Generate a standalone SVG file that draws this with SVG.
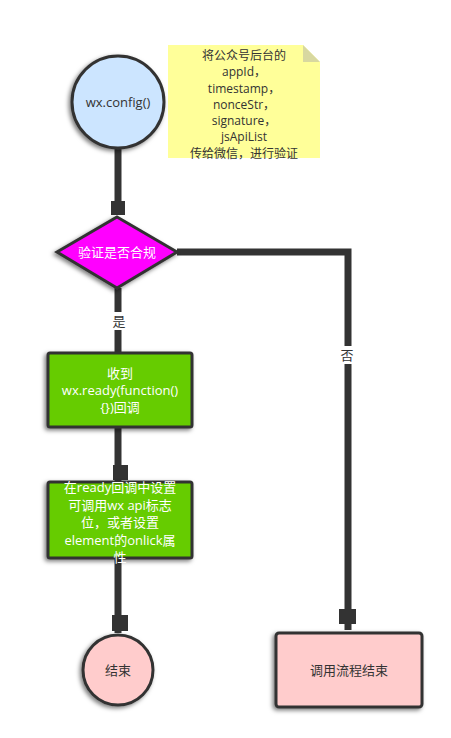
<svg xmlns="http://www.w3.org/2000/svg" width="451" height="738" viewBox="0 0 451 738">
<style>
text{font-family:"Open Sans","Noto Sans CJK SC",sans-serif;font-size:13px;text-anchor:middle;dominant-baseline:central}
.n{font-size:12px}
.shape{stroke:#333;stroke-width:3}
.conn{stroke:#333;stroke-width:7;fill:none}
.sq{fill:#333}
.w{fill:#fff}
.d{fill:#333}
.lbl{fill:#fff}
</style>
<defs>
<filter id="sh" x="-20%" y="-20%" width="140%" height="140%">
<feDropShadow dx="-2" dy="2" stdDeviation="2" flood-color="#000" flood-opacity="0.5"/>
</filter>
</defs>
<rect width="451" height="738" fill="#fff"/>
<g id="connectors">
<path class="conn" d="M118 149V212"/>
<rect class="sq" x="111" y="201" width="14" height="14"/>
<path class="conn" d="M118 288V352"/>
<rect class="lbl" x="110" y="312" width="18" height="18"/>
<text x="119" y="321" class="d">是</text>
<path class="conn" d="M177 252H348V630"/>
<rect class="sq" x="339" y="609" width="17" height="15"/>
<rect class="lbl" x="338" y="346" width="18" height="18"/>
<text x="347" y="355" class="d">否</text>
<path class="conn" d="M118 427V482"/>
<rect class="sq" x="113" y="465" width="15" height="15"/>
<path class="conn" d="M118 558V633"/>
<rect class="sq" x="112" y="615" width="16" height="16"/>
</g>
<g id="note">
<path d="M168 45H303L320 62V158H168Z" fill="#ffff99"/>
<path d="M303 45L320 62H303Z" fill="#d8d8a0"/>
<text x="244" y="55" class="d n">将公众号后台的</text>
<text x="244" y="71.5" class="d n">appId，</text>
<text x="244" y="88" class="d n">timestamp，</text>
<text x="244" y="104" class="d n">nonceStr，</text>
<text x="244" y="120" class="d n">signature，</text>
<text x="244" y="136.5" class="d n">jsApiList</text>
<text x="244" y="153" class="d n">传给微信，进行验证</text>
</g>
<g id="start">
<circle class="shape" cx="118" cy="102" r="46" fill="#cce5ff" filter="url(#sh)"/>
<text x="118" y="102" class="d">wx.config()</text>
</g>
<g id="decision">
<path class="shape" d="M117 217L177 252L117 288L57 252Z" fill="#ff00ff" filter="url(#sh)"/>
<text x="117" y="252" class="w">验证是否合规</text>
</g>
<g id="ready">
<rect class="shape" x="48" y="353" width="144" height="74" rx="2" fill="#66cc00" filter="url(#sh)"/>
<text x="120" y="373" class="w">收到</text>
<text x="120" y="390" class="w">wx.ready(function()</text>
<text x="120" y="407" class="w">{})回调</text>
</g>
<g id="setflag">
<rect class="shape" x="48" y="482" width="144" height="76" rx="2" fill="#66cc00" filter="url(#sh)"/>
<text x="120" y="487" class="w">在ready回调中设置</text>
<text x="120" y="504.5" class="w">可调用wx api标志</text>
<text x="120" y="522" class="w">位，或者设置</text>
<text x="120" y="539.5" class="w">element的onlick属</text>
<text x="120" y="557" class="w">性</text>
</g>
<g id="end">
<circle class="shape" cx="118" cy="670" r="35" fill="#ffcccc" filter="url(#sh)"/>
<text x="118" y="670" class="d">结束</text>
</g>
<g id="endflow">
<rect class="shape" x="276" y="633" width="146" height="74" rx="3" fill="#ffcccc" filter="url(#sh)"/>
<text x="349" y="670" class="d">调用流程结束</text>
</g>
</svg>
